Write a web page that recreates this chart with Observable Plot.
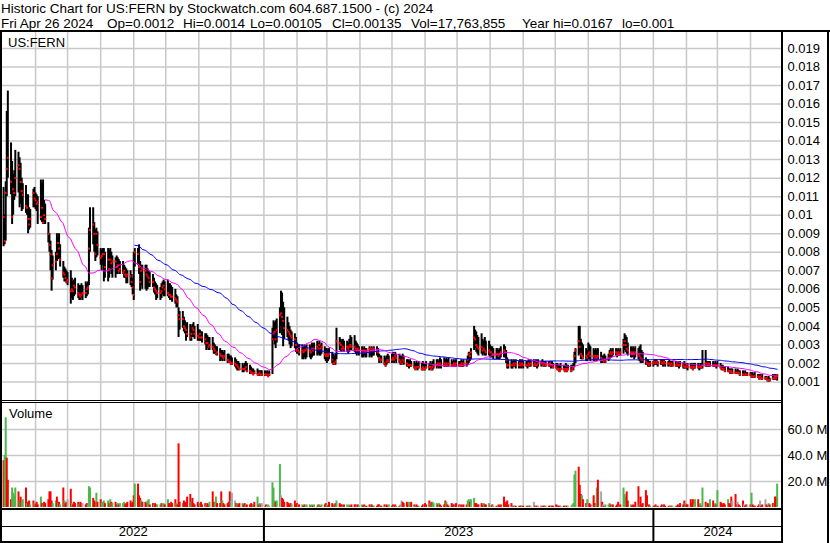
<!DOCTYPE html>
<html><head><meta charset="utf-8">
<script src="https://cdn.jsdelivr.net/npm/d3@7"></script>
<script src="https://cdn.jsdelivr.net/npm/@observablehq/plot@0.6"></script>
<style>
body{margin:0;background:#fff;}
#wrap{position:relative;width:830px;height:543px;overflow:hidden;font-family:"Liberation Sans",Arial,sans-serif;color:#000}
.t{position:absolute;white-space:pre;line-height:15px}
.ln{position:absolute;background:#000}
.pl{position:absolute;left:0}
</style></head><body><div id="wrap"></div>
<script>
// ---- data: one row per week (Mon..Fri), prices in units of 0.0001 ----
const high = [
115,100,118,156,167, 139,129,122,124,135, 134,131,128,120,117, 116,111,111,104,103,
114,115,112,111,110, 119,117,119,108,106, 96,90,86,81,78, 80,90,88,90,84,
75,72,71,70,69, 70,66,64,65,66, 63,62,62,63,62, 64,63,64,93,104,
104,96,92,93,91, 82,81,82,82,80, 82,81,82,80,78, 77,78,77,76,75,
75,73,72,71,70, 70,68,66,80,82, 82,84,75,73,73, 73,73,71,70,69,
68,66,64,63,62, 61,63,64,65,64, 65,63,63,62,61, 60,57,56,50,48,
48,45,43,41,42, 41,40,41,42,40, 41,38,38,37,37, 36,36,35,34,34,
34,31,30,29,29, 28,27,27,26,27, 25,25,24,24,23, 23,22,21,21,20,
20,19,20,21,20, 19,18,17,17,16, 17,16,16,16,16, 16,15,16,15,16,
39,43,42,43,44, 50,59,58,53,50, 45,42,40,38,37, 36,34,31,30,30,
30,29,30,29,30, 30,29,31,30,31, 32,31,32,30,31, 29,28,28,27,28,
26,25,24,25,39, 34,33,32,33,32, 32,31,33,35,34, 35,32,31,30,29,
29,28,29,28,28, 29,28,29,28,29, 29,28,25,24,24, 24,23,24,25,24,
25,26,25,26,25, 25,24,24,25,24, 22,22,21,22,21, 21,20,21,20,21,
20,21,20,20,21, 20,21,20,21,22, 22,22,21,23,22, 23,22,23,22,23,
22,21,22,21,22, 21,21,22,21,22, 22,24,26,26,28, 40,38,37,35,34,
36,33,32,34,32, 32,30,29,29,28, 28,28,27,28,29, 30,29,27,23,22,
22,21,22,21,22, 21,22,21,22,21, 21,21,22,21,22, 22,21,22,21,22,
21,22,21,21,21, 21,21,20,21,20, 20,20,19,19,20, 19,19,20,19,19,
19,19,20,26,28, 40,40,33,31,30, 28,27,31,30,29, 28,27,28,27,28,
26,24,24,25,24, 25,27,28,27,28, 28,27,28,27,28, 33,36,35,34,31,
29,28,29,28,29, 28,29,30,27,26, 23,22,22,21,21, 21,22,22,22,21,
22,22,21,22,21, 21,22,21,21,21, 21,21,21,20,21, 20,21,20,20,20,
20,20,19,20,20, 20,19,20,20,27, 27,21,21,21,21, 21,20,21,20,21,
20,19,19,18,18, 18,17,17,17,17, 17,16,17,16,16, 16,15,16,15,15,
15,15,15,14,15, 14,14,14,13,14, 13,13,12,13,12, 14,13,14,13,14
];
const low = [
83,84,86,110,120, 111,95,100,108,110, 112,104,106,102,103, 101,100,90,92,93,
104,104,103,102,95, 97,96,95,95,95, 85,80,70,59,65, 70,75,76,77,72,
66,64,64,63,62, 52,55,54,56,57, 55,54,54,55,54, 55,56,57,62,80,
84,80,75,77,78, 73,70,73,64,66, 64,66,70,68,66, 66,68,68,69,68,
68,66,66,63,63, 62,61,57,54,72, 73,68,59,62,60, 60,59,60,61,61,
61,58,57,54,55, 54,55,57,56,56, 56,55,54,54,53, 52,50,50,34,38,
39,37,36,32,34, 32,32,34,34,33, 32,32,32,32,31, 30,27,28,27,27,
27,25,25,25,24, 21,22,21,22,21, 20,20,20,19,19, 18,17,16,16,16,
15,15,16,16,15, 14,14,14,14,14, 14,13,13,14,13, 13,13,13,13,13,
14,32,30,28,31, 36,40,35,29,33, 34,32,30,28,29, 28,26,25,25,24,
22,22,23,22,23, 23,22,23,24,24, 24,25,24,24,25, 22,21,20,21,22,
20,19,19,19,22, 27,26,26,27,26, 26,25,26,27,27, 26,25,24,25,24,
23,23,24,23,23, 23,24,23,24,24, 24,23,20,21,20, 19,18,19,20,20,
20,21,20,21,20, 20,19,19,20,19, 18,18,17,18,18, 17,16,17,16,17,
16,16,16,16,17, 16,17,16,16,17, 17,18,17,18,17, 18,18,18,18,18,
18,18,18,18,18, 18,18,18,18,18, 18,19,20,21,22, 27,28,26,25,24,
25,24,25,24,24, 24,23,23,23,22, 22,22,22,22,23, 23,23,20,17,17,
17,17,18,18,17, 17,18,17,18,17, 18,17,18,18,18, 18,18,18,17,18,
18,19,18,18,18, 18,18,17,18,17, 17,16,16,15,16, 16,15,16,15,16,
15,16,16,18,20, 24,25,22,22,22, 21,21,22,22,21, 21,21,22,21,22,
20,20,21,20,20, 21,22,23,23,24, 24,23,24,24,24, 25,27,26,25,24,
23,23,24,22,23, 22,21,20,20,20, 19,19,18,18,18, 18,19,19,19,18,
19,19,18,19,18, 18,19,18,18,18, 18,18,18,17,18, 17,17,17,17,16,
17,17,16,17,17, 17,16,17,17,17, 18,18,18,18,18, 18,18,18,17,18,
17,16,16,16,15, 15,15,14,15,14, 14,14,14,14,13, 13,13,13,13,13,
13,12,12,12,12, 12,11,12,11,11, 11,11,10,10,10, 11,11,11,11,10.5
];
const close = [
99,86,112,125,131, 118,99,114,112,120, 127,125,118,113,111, 105,104,98,95,98,
112,109,108,106,107, 99,104,96,100,98, 90,84,79,66,73, 75,79,85,82,76,
69,68,66,64,65, 59,60,59,62,61, 58,57,56,57,58, 58,60,61,82,92,
95,90,79,90,84, 77,78,79,79,72, 76,71,76,74,75, 75,72,73,70,71,
69,70,68,67,68, 67,64,61,57,80, 79,72,64,70,71, 70,68,67,66,64,
64,61,60,59,58, 58,59,61,62,60, 58,57,57,56,56, 55,54,53,46,44,
44,40,39,38,36, 34,36,39,38,36, 35,34,36,34,34, 33,31,31,29,30,
29,28,27,25,26, 25,24,24,23,24, 22,21,21,20,20, 20,19,19,18,17,
17,17,17,18,16, 16,15,15,14,15, 14,14,15,14,14, 14,14,14,13,14,
33,36,37,33,38, 46,47,45,43,39, 38,37,36,35,34, 33,30,27,27,26,
27,26,27,27,28, 27,26,28,27,28, 29,28,30,28,29, 25,24,25,24,25,
22,20,20,21,32, 31,30,28,29,28, 29,28,29,30,29, 29,28,27,28,27,
27,26,27,26,27, 28,27,28,27,28, 27,26,23,22,22, 20,19,21,22,21,
22,23,22,24,23, 22,21,20,22,21, 20,19,19,19,19, 18,17,18,18,18,
17,18,17,17,18, 18,18,17,18,19, 19,20,19,20,19, 20,19,20,19,20,
19,19,20,19,20, 19,19,20,19,20, 20,22,25,24,26, 34,33,30,29,28,
29,27,28,27,26, 27,26,26,25,25, 25,25,24,25,26, 27,26,22,19,19,
19,19,20,19,20, 19,20,19,20,19, 19,19,20,19,20, 19,20,19,19,20,
20,20,19,20,19, 19,20,19,19,18, 18,17,17,16,17, 17,16,17,16,17,
16,17,18,24,27, 32,29,25,24,23, 24,23,25,26,24, 24,23,24,23,24,
23,22,22,22,21, 23,25,26,25,26, 26,25,26,25,26, 30,32,30,28,27,
26,25,26,25,26, 25,24,23,22,22, 21,20,20,19,20, 20,21,20,21,20,
21,20,20,21,20, 20,20,19,20,19, 19,20,19,19,19, 19,18,18,19,18,
18,18,17,18,18, 18,18,18,18,19, 20,20,19,20,19, 19,19,19,19,19,
18,17,17,17,16, 16,16,15,16,15, 15,15,15,15,14, 14,14,14,14,14,
14,13,13,13,13, 13,12,13,12,12, 12,12,11,11,11, 12,12,13,12,13.5
];
// daily volume in millions
const volume = [
36,40,69,38,21, 6,15,11,9,15, 12,5,8,4,6, 15,3,4,5,2,
5,3,2,4,2, 8,3,2,4,3, 6,12,12,5,3, 5,8,3,4,2,
15,5,3,4,6, 14,3,2,4,3, 4,2,4,3,3, 2,3,2,16,15,
7,5,4,11,4, 6,3,4,5,3, 5,3,6,4,3, 4,2,3,2,3,
3,4,2,3,4, 5,3,4,9,18, 18,9,7,5,4, 4,3,5,6,2,
3,2,3,2,2, 2,3,2,3,2, 6,3,2,4,3, 6,3,2,49,4,
3,5,4,3,8, 10,4,7,3,2, 4,2,3,4,2, 3,2,3,2,4,
12,4,3,8,3, 3,12,5,3,2, 3,4,12,5,11, 5,3,3,2,3,
3,2,3,2,2, 2,3,2,2,4, 8,2,3,2,3, 1,2,1,2,1,
19,15,5,4,5, 33,9,7,6,4, 4,3,2,3,2, 5,2,3,2,2,
2,1,2,1,2, 2,1,2,1,2, 1,2,2,1,2, 2,3,2,1,4,
3,2,2,3,5, 3,2,2,1,2, 2,1,2,1,2, 2,2,1,2,1,
2,1,2,1,1, 2,1,2,1,1, 1,2,2,1,1, 2,1,2,1,2,
1,2,1,2,1, 1,2,5,4,3, 4,2,4,3,4, 2,1,2,1,1,
1,2,1,3,2, 5,3,4,4,3, 3,2,3,2,1, 2,5,4,2,1,
3,2,2,1,3, 2,1,2,1,2, 2,5,6,4,6, 7,3,3,2,2,
3,2,3,2,2, 3,1,1,2,1, 1,1,2,1,2, 8,2,4,5,2,
3,1,1,1,1, 1,1,1,1,1, 1,1,1,1,1, 4,1,1,1,1,
1,1,1,1,1, 1,1,1,1,1, 2,1,1,1,1, 1,1,1,1,1,
1,2,3,25,28, 31,17,10,9,6, 3,6,2,3,2, 9,3,2,15,21,
12,4,2,1,2, 2,3,2,1,2, 1,2,4,1,2, 15,10,8,12,5,
2,1,2,1,4, 16,2,8,2,3, 13,9,1,2,1, 1,1,2,1,1,
1,2,1,2,1, 1,1,1,1,1, 1,1,2,1,3, 2,5,3,2,2,
6,3,6,2,6, 6,2,3,1,15, 4,2,3,2,6, 5,2,3,2,13,
4,3,2,3,2, 6,3,2,8,5, 10,2,4,2,1, 5,2,1,2,1,
2,11,2,1,1, 1,2,5,1,2, 6,2,1,3,2, 3,2,8,8,18
];
// day direction: g = up, r = down, n = unchanged
const volDir = [
"rggrr","rgggg","rgrgg","rgrrg","rgrrr","grgrr","rrrrg","grgrg",
"rgrrn","rgrrr","rgrrn","rrggg","rrrgr","rgggr","grgrg","rrgrg",
"ggrrr","rrrrg","rrrgr","rrggr","rgrrg","grggr","grrrr","rgrrr",
"grrrr","rgrrr","rrgrr","rgrrg","rrggr","rrgrr","rrrgn","nrgrr",
"grrgr","rrrgr","grgrn","nrngn","gggrg","gnrrr","rrrrg","rrrgr",
"grrgg","grgrg","grgrg","rrgrr","rrgrg","rrrgr","gggrr","rrgrg",
"grrgr","rgrrg","rrrgr","rgrrg","rrgrg","rgnrr","rrggr","rgrrg",
"rrgrr","rgrgg","grgrr","rrgrr","rrrgr","rnrrr","rggrg","grrrr",
"rrgrr","grnrn","rgrrr","rrrrr","rgrgr","grrgr","nrgrn","nrgrn",
"rgrrg","rrgrr","rrrrg","rrgrn","ngggg","rrrgr","rgnrr","rrggr",
"nrnrg","ggrgr","rrrgr","gggrr","grrrr","rgrrr","rrnrg","grrgr",
"rrgrr","nrgrn","grrrr","rrgrr","rrrgg","rrgrg","rgrrg","rrgrg",
"rrrrr","grrrn","rrnrr","rnrrn","rgrrr","rrnrr","nrrgr","rgrrg"
].join("").split("");
const priceTicks = [0.001,0.002,0.003,0.004,0.005,0.006,0.007,0.008,0.009,0.01,
  0.011,0.012,0.013,0.014,0.015,0.016,0.017,0.018,0.019];
const volTicks = [20, 40, 60];
const years = ["2022", "2023", "2024"];
const titleLine1 = "Historic Chart for US:FERN by Stockwatch.com 604.687.1500 - (c) 2024";
const titleParts = ["Fri Apr 26 2024", "Op=0.0012", "Hi=0.0014", "Lo=0.00105", "Cl=0.00135",
  "Vol=17,763,855", "Year hi=0.0167", "lo=0.001"];
const titleX = [1, 107, 183, 250, 332, 411, 522, 622];

// ---- build ----
const days = d3.utcDays(new Date(Date.UTC(2022,4,2)), new Date(Date.UTC(2024,3,27)))
  .filter(d => d.getUTCDay() % 6 !== 0);
const n = Math.min(days.length, high.length, low.length, close.length, volume.length, volDir.length);
const dirColor = {g: "#4cb84c", r: "#ff0000", n: "#a8a8a8"};
const rows = d3.range(n).map(i => ({
  date: days[i], high: high[i] / 1e4, low: low[i] / 1e4, close: close[i] / 1e4,
  vol: volume[i], color: dirColor[volDir[i]]
}));

const xDomain = [new Date(Date.UTC(2022,4,1)), new Date(Date.UTC(2024,4,1))];
const monthLines = d3.utcMonths(new Date(Date.UTC(2022,5,1)), xDomain[1]);
const FONT = '"Liberation Sans", Arial, sans-serif';
const GRID = "#c8c8c8";
const wrap = document.getElementById("wrap");
const baseStyle = {fontFamily: FONT, fontSize: "13px", color: "#000", background: "transparent", overflow: "visible"};
const ma = k => v => (v.length < k ? NaN : d3.mean(v));

function place(el, top) {
  const d = document.createElement("div");
  d.className = "pl"; d.style.top = top + "px";
  d.appendChild(el); wrap.appendChild(d);
}

const price = Plot.plot({
  width: 830, height: 368, marginLeft: 2, marginRight: 48, marginTop: 0, marginBottom: 0,
  style: baseStyle,
  x: {type: "utc", domain: xDomain, axis: null},
  y: {domain: [0, 0.01986], axis: null},
  marks: [
    Plot.ruleX(monthLines, {stroke: GRID, strokeWidth: 1.5}),
    Plot.ruleY(priceTicks, {stroke: GRID, strokeWidth: 1.5}),
    Plot.axisY({ticks: priceTicks, anchor: "right", tickSize: 0, tickPadding: 5, label: null,
      tickFormat: d => String(+d.toFixed(3)), fontSize: 13, fill: "#000"}),
    Plot.ruleX(rows, {x: "date", y1: "low", y2: "high", stroke: "#000", strokeWidth: 2}),
    Plot.dot(rows, {x: "date", y: "close", symbol: "square", r: 1.15, fill: "#ff0000"}),
    Plot.lineY(rows, Plot.windowY({k: 90, anchor: "end", strict: true, reduce: ma(90)},
      {x: "date", y: "close", stroke: "#0000ff", strokeWidth: 1})),
    Plot.lineY(rows, Plot.windowY({k: 30, anchor: "end", strict: true, reduce: ma(30)},
      {x: "date", y: "close", stroke: "#ff00ff", strokeWidth: 1}))
  ]
});
place(price, 32);

const vol = Plot.plot({
  width: 830, height: 105, marginLeft: 2, marginRight: 48, marginTop: 0, marginBottom: 1,
  style: baseStyle,
  color: {type: "identity"},
  x: {type: "utc", domain: xDomain, axis: null},
  y: {domain: [0, 80], axis: null},
  marks: [
    Plot.ruleX(monthLines, {stroke: GRID, strokeWidth: 1.5}),
    Plot.ruleY(volTicks, {stroke: GRID, strokeWidth: 1.5}),
    Plot.axisY({ticks: volTicks, anchor: "right", tickSize: 0, tickPadding: 5, label: null,
      tickFormat: d => d.toFixed(1) + " M", fontSize: 13, fill: "#000"}),
    Plot.ruleX(rows, {x: "date", y1: 0, y2: "vol", stroke: "color", strokeWidth: 2})
  ]
});
place(vol, 403);

const yearRows = years.map(y => {
  const a = new Date(Date.UTC(+y, 0, 1)), b = new Date(Date.UTC(+y + 1, 0, 1));
  const s = a < xDomain[0] ? xDomain[0] : a, e = b > xDomain[1] ? xDomain[1] : b;
  return {label: y, start: a, mid: new Date((+s + +e) / 2)};
});
const yr = Plot.plot({
  width: 830, height: 33, marginLeft: 2, marginRight: 48, marginTop: 0, marginBottom: 0,
  style: baseStyle,
  x: {type: "utc", domain: xDomain, axis: null},
  marks: [
    Plot.ruleX(yearRows.filter(d => d.start > xDomain[0]), {x: "start", stroke: "#000", strokeWidth: 2}),
    Plot.text(yearRows, {x: "mid", text: "label", frameAnchor: "bottom", dy: -8, fontSize: 13, fill: "#000"})
  ]
});
place(yr, 510);

// ---- texts ----
function txt(s, x, y, size) {
  const d = document.createElement("div");
  d.className = "t"; d.textContent = s;
  Object.assign(d.style, {left: x + "px", top: y + "px", fontSize: size + "px"});
  wrap.appendChild(d);
}
txt(titleLine1, 1, 1, 13.5);
titleParts.forEach((s, i) => txt(s, titleX[i], 16, 13.5));
txt("US:FERN", 8, 35, 13);
txt("Volume", 9, 406, 13);

// ---- frame lines ----
function line(x, y, w, h) {
  const d = document.createElement("div");
  d.className = "ln";
  Object.assign(d.style, {left: x + "px", top: y + "px", width: w + "px", height: h + "px"});
  wrap.appendChild(d);
}
line(0, 30, 830, 2);
line(0, 30, 2, 513);
line(781, 30, 2, 513);
line(827, 30, 2, 513);
line(0, 400, 783, 1);
line(0, 402, 783, 1);
line(0, 508, 783, 2);
line(0, 526, 783, 1);
line(0, 541, 783, 2);
</script></body></html>
